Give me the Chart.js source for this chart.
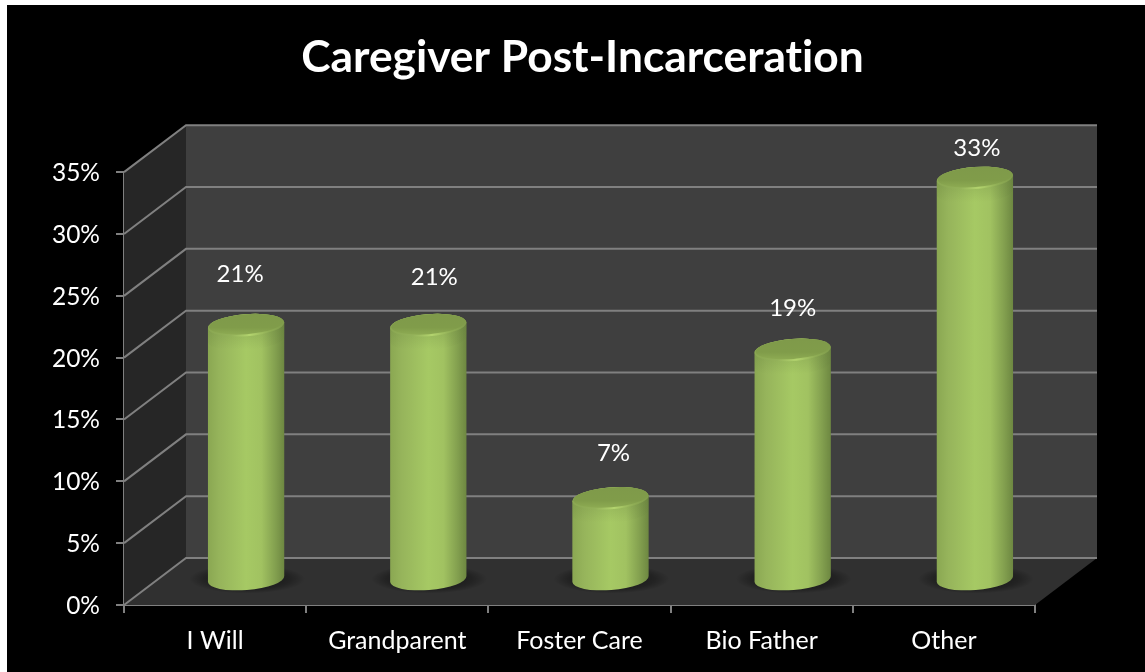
<!DOCTYPE html>
<html lang="en">
<head>
    <meta charset="UTF-8">
    <title>Caregiver Post-Incarceration</title>
    <script src="https://cdn.jsdelivr.net/npm/chart.js@4/dist/chart.umd.min.js"></script>
    <style>
        html, body {margin: 0; padding: 0; background: white; overflow: hidden}
        #wrap {position: absolute; left: 7px; top: 5px; width: 1138px; height: 667px; background: black}
    </style>
</head>
<body>
<div id="wrap"><canvas id="chart"></canvas></div>
<script>
    const categories = ['I Will', 'Grandparent', 'Foster Care', 'Bio Father', 'Other'];
    const values = [20.6, 20.6, 6.6, 18.6, 32.5];
    const yTicks = [0, 5, 10, 15, 20, 25, 30, 35];

    // hand placed data labels, they do not sit at a fixed distance in the original
    const labelNudgeX = [-6, 6, 3, 0, 2];
    const labelNudgeY = [-51, -48, -45, -42, -30];

    const labelFont = '24px Lato, sans-serif';
    const lineColor = '#808080';

    // 3D box: how far the back wall sits from the front plane, bars stand in between
    const depthX = 62;
    const depthY = -47;
    const barShiftX = 31;
    const barShiftY = -25;
    const tilt = -4.5 * Math.PI / 180;
    const capRy = 11;

    function bodyGradient(ctx, left, right) {
        const g = ctx.createLinearGradient(left, 0, right, 0);
        g.addColorStop(0, '#8aa752');
        g.addColorStop(0.15, '#96b45b');
        g.addColorStop(0.5, '#a6c964');
        g.addColorStop(0.7, '#a1c261');
        g.addColorStop(0.88, '#83a04f');
        g.addColorStop(1, '#6d8741');
        return g;
    }

    const box3d = {
        id: 'box3d',
        beforeDraw(chart) {
            // the Lato ti ligature is not in the original title
            chart.ctx.textRendering = 'optimizeSpeed';
        },
        afterLayout(chart) {
            // title sits a little right of the plot centre
            chart.titleBlock.left += 3;
            chart.titleBlock.right += 3;
        },
        beforeDatasetsDraw(chart) {
            const ctx = chart.ctx;
            const a = chart.chartArea;
            const y = chart.scales.y;
            ctx.save();
            // side wall, floor, back wall
            ctx.fillStyle = '#262626';
            ctx.beginPath();
            ctx.moveTo(a.left, a.top);
            ctx.lineTo(a.left + depthX, a.top + depthY);
            ctx.lineTo(a.left + depthX, a.bottom + depthY);
            ctx.lineTo(a.left, a.bottom);
            ctx.fill();
            ctx.fillStyle = '#303030';
            ctx.beginPath();
            ctx.moveTo(a.left, a.bottom);
            ctx.lineTo(a.left + depthX, a.bottom + depthY);
            ctx.lineTo(a.right + depthX, a.bottom + depthY);
            ctx.lineTo(a.right, a.bottom);
            ctx.fill();
            ctx.fillStyle = '#3f3f3f';
            ctx.fillRect(a.left + depthX, a.top + depthY, a.right - a.left, a.bottom - a.top);
            // grid runs along the side wall and then across the back
            ctx.strokeStyle = lineColor;
            ctx.lineWidth = 2;
            yTicks.forEach(v => {
                const py = y.getPixelForValue(v);
                ctx.beginPath();
                ctx.moveTo(a.left, py);
                ctx.lineTo(a.left + depthX, py + depthY);
                ctx.lineTo(a.right + depthX, py + depthY);
                ctx.stroke();
            });
            ctx.restore();
        },
        afterDatasetsDraw(chart) {
            const ctx = chart.ctx;
            const bars = chart.getDatasetMeta(0).data;
            ctx.save();
            bars.forEach(bar => {
                const x = bar.x + barShiftX;
                const top = bar.y + barShiftY;
                const base = bar.base + barShiftY;
                const rx = bar.width / 2;

                // floor shadow
                ctx.save();
                ctx.translate(x + 1, base);
                ctx.scale(1, 0.25);
                const sh = ctx.createRadialGradient(0, 0, 25, 0, 0, 58);
                sh.addColorStop(0, 'rgba(0,0,0,0.45)');
                sh.addColorStop(0.55, 'rgba(0,0,0,0.28)');
                sh.addColorStop(1, 'rgba(0,0,0,0)');
                ctx.fillStyle = sh;
                ctx.beginPath();
                ctx.arc(0, 0, 58, 0, Math.PI * 2);
                ctx.fill();
                ctx.restore();

                // body
                ctx.fillStyle = bodyGradient(ctx, x - rx, x + rx);
                ctx.beginPath();
                ctx.ellipse(x, base, rx, capRy, tilt, Math.PI, 0, true);
                ctx.ellipse(x, top, rx, capRy, tilt, 0, Math.PI, true);
                ctx.closePath();
                ctx.fill();

                // soft shade under the cap
                const under = ctx.createLinearGradient(0, top, 0, top + 24);
                under.addColorStop(0, 'rgba(100,125,60,0.3)');
                under.addColorStop(1, 'rgba(100,125,60,0)');
                ctx.fillStyle = under;
                ctx.beginPath();
                ctx.ellipse(x, top + 14, rx, capRy, tilt, Math.PI, 0, true);
                ctx.ellipse(x, top, rx, capRy, tilt, 0, Math.PI, true);
                ctx.closePath();
                ctx.fill();

                // cap with light rim at the front
                const rim = ctx.createLinearGradient(x - rx, 0, x + rx, 0);
                rim.addColorStop(0, '#8aa752');
                rim.addColorStop(0.3, '#94b25a');
                rim.addColorStop(0.55, '#b3d46e');
                rim.addColorStop(0.8, '#8fad55');
                rim.addColorStop(1, '#7f9b4b');
                ctx.fillStyle = rim;
                ctx.beginPath();
                ctx.ellipse(x, top, rx, capRy, tilt, 0, Math.PI * 2);
                ctx.fill();
                const cap = ctx.createLinearGradient(0, top - capRy, 0, top + capRy);
                cap.addColorStop(0, '#7f9a4a');
                cap.addColorStop(0.6, '#809c4a');
                cap.addColorStop(1, '#90ae54');
                ctx.fillStyle = cap;
                ctx.beginPath();
                ctx.ellipse(x, top - 1, rx - 1, capRy - 1, tilt, 0, Math.PI * 2);
                ctx.fill();
            });

            // data labels
            ctx.fillStyle = '#ffffff';
            ctx.font = labelFont;
            ctx.textAlign = 'center';
            ctx.textBaseline = 'middle';
            bars.forEach((bar, i) => {
                ctx.fillText(values[i].toFixed(0) + '%', bar.x + barShiftX + labelNudgeX[i], bar.y + barShiftY + labelNudgeY[i]);
            });
            ctx.restore();
        }
    };

    new Chart('chart', {
        type: 'bar',
        data: {
            labels: categories,
            datasets: [{
                data: values,
                backgroundColor: 'transparent',
                barPercentage: 0.42,
                categoryPercentage: 1
            }]
        },
        plugins: [box3d],
        options: {
            responsive: true,
            maintainAspectRatio: false,
            animation: false,
            layout: {padding: {left: 0, right: 110, top: 26, bottom: 0}},
            plugins: {
                legend: {display: false},
                tooltip: {enabled: false},
                title: {
                    display: true,
                    text: 'Caregiver Post-Incarceration',
                    color: '#ffffff',
                    font: {family: 'Lato, sans-serif', size: 44.3, weight: 'bold'},
                    padding: {top: 0, bottom: 88},
                    fullSize: false
                }
            },
            scales: {
                x: {
                    afterFit(scale) { scale.height = 67; },
                    grid: {display: true, drawOnChartArea: false, color: lineColor, lineWidth: 2, tickLength: 8, tickColor: lineColor},
                    border: {color: lineColor, width: 2},
                    ticks: {color: '#ffffff', font: {family: 'Lato, sans-serif', size: 25}, padding: 13, maxRotation: 0}
                },
                y: {
                    min: 0,
                    max: 35,
                    afterFit(scale) { scale.width = 117; },
                    afterBuildTicks(scale) { scale.ticks = yTicks.map(v => ({value: v})); },
                    grid: {display: true, drawOnChartArea: false, color: lineColor, lineWidth: 2, tickLength: 8, tickColor: lineColor},
                    border: {color: lineColor, width: 2},
                    ticks: {color: '#ffffff', font: {family: 'Lato, sans-serif', size: 24.5}, padding: 16, labelOffset: 1, callback: v => v + '%'}
                }
            }
        }
    });
</script>
</body>
</html>
